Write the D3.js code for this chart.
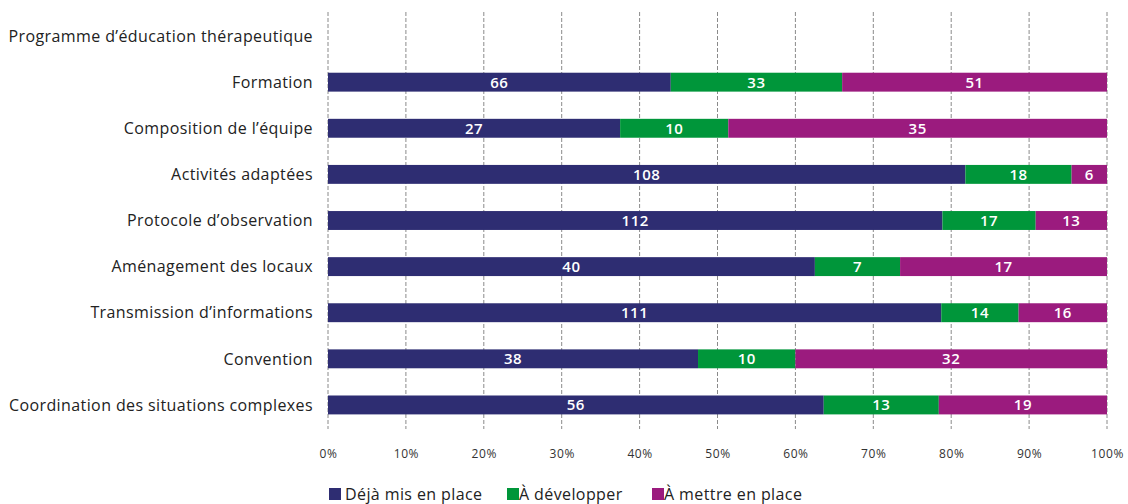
<!DOCTYPE html>
<html><head><meta charset="utf-8">
<script src="https://cdn.jsdelivr.net/npm/d3@7"></script>
<style>body{margin:0;background:#fff}svg{display:block}text{font-family:"Open Sans",sans-serif}</style>
</head><body><svg id="c" width="1128" height="504"></svg>
<script>
const categories = ["Programme d’éducation thérapeutique","Formation","Composition de l’équipe","Activités adaptées","Protocole d’observation","Aménagement des locaux","Transmission d’informations","Convention","Coordination des situations complexes"];
const seriesNames = ["Déjà mis en place","À développer","À mettre en place"];
const deja = [0,66,27,108,112,40,111,38,56];
const developper = [0,33,10,18,17,7,14,10,13];
const mettre = [0,51,35,6,13,17,16,32,19];
const tickValues = [0,0.1,0.2,0.3,0.4,0.5,0.6,0.7,0.8,0.9,1];
const colors = ["#2E2D72","#00963A","#9B1B7E"];

const svg = d3.select("#c");
const x = d3.scaleLinear().domain([0,1]).range([328,1107]);
const y = d3.scaleBand().domain(categories).range([13,428]).paddingInner(0.59).paddingOuter(0.295);

const rows = categories.map((c,i)=>({cat:c, vals:[deja[i],developper[i],mettre[i]]}));

// grid
svg.append("g").selectAll("line").data(tickValues).join("line")
  .attr("x1",d=>x(d)).attr("x2",d=>x(d)).attr("y1",12).attr("y2",429)
  .attr("stroke","#8a8a8a").attr("stroke-width",1).attr("stroke-dasharray","4,2");

// bars
rows.forEach(r=>{
  const total = d3.sum(r.vals);
  if(!total) return;
  let acc=0;
  r.vals.forEach((v,k)=>{
    const x0 = acc/total, x1=(acc+v)/total; acc+=v;
    svg.append("rect").attr("x",x(x0)).attr("width",x(x1)-x(x0))
      .attr("y",y(r.cat)).attr("height",y.bandwidth()).attr("fill",colors[k]);
    svg.append("text").attr("x",(x(x0)+x(x1))/2).attr("y",y(r.cat)+y.bandwidth()/2)
      .attr("dy","0.36em").attr("text-anchor","middle").attr("fill","#fff")
      .attr("font-size",15).attr("font-weight",600).attr("letter-spacing",0.5).text(v);
  });
});

// category labels
svg.append("g").selectAll("text").data(categories).join("text")
  .attr("x",313).attr("y",d=>y(d)+y.bandwidth()/2).attr("dy","0.36em")
  .attr("text-anchor","end").attr("font-size",16).attr("letter-spacing",0.4).attr("fill","#222").text(d=>d);

// x axis
const ax = svg.append("g").attr("transform","translate(0,446)")
  .call(d3.axisBottom(x).tickValues(tickValues).tickFormat(d3.format(".0%")).tickSize(0));
ax.select(".domain").remove();
ax.selectAll("text").attr("font-size",12).attr("letter-spacing",0.6).attr("fill","#333").attr("font-family","'Open Sans',sans-serif");

// legend
const legX = [329,507,652];
const lg = svg.append("g").selectAll("g").data(seriesNames).join("g")
  .attr("transform",(d,i)=>`translate(${legX[i]},494)`);
lg.append("rect").attr("x",0).attr("y",-6).attr("width",12).attr("height",12).attr("fill",(d,i)=>colors[i]);
lg.append("text").attr("x",(d,i)=>i===0?16:12).attr("dy","0.36em").attr("font-size",16).attr("letter-spacing",0.4).attr("fill","#222").text(d=>d);
</script></body></html>
